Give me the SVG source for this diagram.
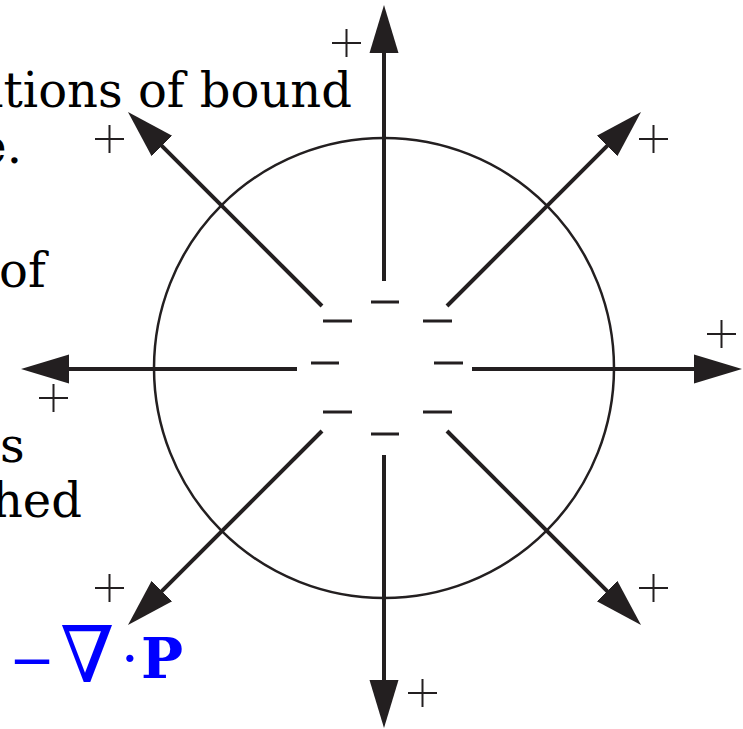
<svg xmlns="http://www.w3.org/2000/svg" width="743" height="729" viewBox="0 0 743 729">
<defs>
<style>
.arr{stroke:#231f20;stroke-width:4;fill:none;marker-end:url(#ah)}
.minus{stroke:#231f20;stroke-width:3;fill:none}
.plus{stroke:#231f20;stroke-width:2;fill:none}
.txt{font-family:"DejaVu Serif",serif;font-size:48px;fill:#000}
.math{font-family:"DejaVu Serif",serif;fill:#0000ff}
</style>
<marker id="ah" markerUnits="userSpaceOnUse" markerWidth="50" markerHeight="32" viewBox="0 -16 50 32" refX="4" refY="0" orient="auto">
<path d="M0,-14.5 L48,0 L0,14.5 z" fill="#231f20"/>
</marker>
</defs>
<rect width="743" height="729" fill="#fff"/>
<g id="text">
<text class="txt" x="352" y="107" text-anchor="end">ations of bound</text>
<text class="txt" x="22" y="163" text-anchor="end">e.</text>
<text class="txt" x="-1" y="287">of</text>
<text class="txt" x="0" y="462">s</text>
<text class="txt" x="82" y="517" text-anchor="end">hed</text>
</g>
<g id="formula" class="math">
<text x="9" y="679" font-size="55">−</text>
<text x="60" y="682" font-size="78">∇</text>
<text x="121" y="678" font-size="56">·</text>
<text x="141" y="678" font-size="56" font-weight="bold">P</text>
</g>
<g id="sphere">
<circle cx="384" cy="368" r="230" fill="none" stroke="#231f20" stroke-width="2.5"/>
</g>
<g id="connectors">
<line class="arr" x1="384" y1="281" x2="384" y2="49"/>
<line class="arr" x1="384" y1="455" x2="384" y2="684"/>
<line class="arr" x1="472" y1="369" x2="698" y2="369"/>
<line class="arr" x1="297" y1="369" x2="65" y2="369"/>
<line class="arr" x1="322" y1="306" x2="159.1" y2="143.1"/>
<line class="arr" x1="447" y1="306" x2="609.9" y2="143.1"/>
<line class="arr" x1="322" y1="431" x2="159.1" y2="593.9"/>
<line class="arr" x1="447" y1="431" x2="609.9" y2="593.9"/>
</g>
<g id="bound-charges-negative">
<line class="minus" x1="371" y1="302" x2="399" y2="302"/>
<line class="minus" x1="323" y1="321" x2="352" y2="321"/>
<line class="minus" x1="423" y1="321" x2="452" y2="321"/>
<line class="minus" x1="311" y1="363" x2="339" y2="363"/>
<line class="minus" x1="434" y1="363" x2="463" y2="363"/>
<line class="minus" x1="323" y1="412" x2="352" y2="412"/>
<line class="minus" x1="423" y1="412" x2="452" y2="412"/>
<line class="minus" x1="371" y1="434" x2="399" y2="434"/>
</g>
<g id="bound-charges-positive" class="plus">
<path d="M332,43 H361 M346.5,29 V57"/>
<path d="M95,139 H124 M109.5,125 V153"/>
<path d="M639,139 H668 M653.5,125 V153"/>
<path d="M707,334 H736 M721.5,320 V348"/>
<path d="M39,398 H68 M53.5,384 V412"/>
<path d="M95,588 H124 M109.5,574 V602"/>
<path d="M639,588 H668 M653.5,574 V602"/>
<path d="M408,693 H437 M422.5,679 V707"/>
</g>
</svg>
